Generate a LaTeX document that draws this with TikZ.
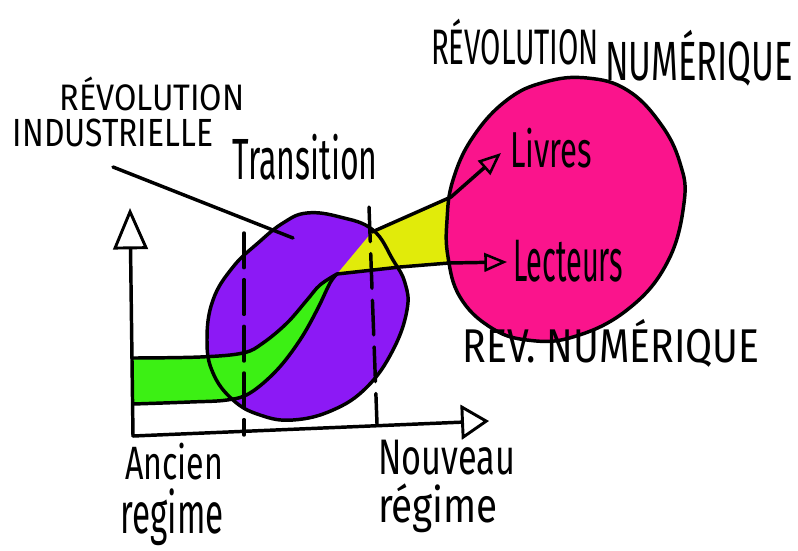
\documentclass[tikz,border=0pt]{standalone}
\usepackage{fontspec}
\setmainfont{Fira Sans}
\usepackage{graphicx}
\usetikzlibrary{arrows.meta}
\newlength\pxu
\setlength\pxu{0.75pt}
\newcommand\hwtext[3]{\resizebox*{#1\pxu}{#2\pxu}{#3}}
\definecolor{violetfill}{HTML}{8C19F5}
\definecolor{pinkfill}{HTML}{FA148C}
\definecolor{greenfill}{HTML}{3CF014}
\definecolor{yellowfill}{HTML}{E1EB0A}
\begin{document}
\begin{tikzpicture}[x=0.75pt,y=-0.75pt,
  ink/.style={line width=2.6pt, line cap=round, line join=round},
  lbl/.style={inner sep=0pt, outer sep=0pt, anchor=center},
  dashline/.style={ink, dash pattern=on 26pt off 9pt},
  smalltip/.style={-{Triangle[open,length=17pt,width=14pt,line width=1.9pt]}},
]
\useasboundingbox[fill=white] (0,0) rectangle (798,550);

% named points
\coordinate (origin) at (133,436);
\coordinate (ytip) at (130,208);
\coordinate (xtip) at (489,421);
\coordinate (bandjoin) at (337,274);
\coordinate (ellipsetop) at (372,232);
\coordinate (topjoin) at (451,197);
\coordinate (botjoin) at (449,263);
\coordinate (livtip) at (501,153);
\coordinate (lectip) at (507,262);
\coordinate (leadstart) at (113,167);
\coordinate (leadend) at (293,238);

% purple ellipse fill
\fill[violetfill] plot[smooth cycle, tension=0.7] coordinates {
  (307,213) (340,217) (373,230) (393,260) (405,283) (407,310) (393,350)
  (367,387) (333,410) (293,420) (260,415) (233,400) (213,373) (207,340)
  (213,300) (233,267) (258,243) (283,223)};

% green band
\fill[greenfill] plot[smooth, tension=0.6] coordinates {
  (133,358) (200,357) (243,353) (263,343) (287,323) (307,300) (320,285) (337,274)}
  -- plot[smooth, tension=0.6] coordinates {
  (337,274) (330,283) (317,310) (300,340) (277,370) (250,393) (227,400) (190,402) (133,404)}
  -- cycle;

% yellow band
\fill[yellowfill] (bandjoin) -- (ellipsetop) -- (topjoin) -- (480,190) -- (480,262)
  -- (botjoin) -- (400,267) -- cycle;

% pink circle
\path[fill=pinkfill, draw=black, ink] plot[smooth cycle, tension=0.7] coordinates {
  (587,78) (627,90) (660,123) (680,163) (684,203) (667,263) (627,310)
  (573,337) (527,340) (490,327) (460,297) (448,257) (447,220) (453,180)
  (473,137) (507,100) (545,82)};

% ellipse outline
\draw[ink] plot[smooth cycle, tension=0.7] coordinates {
  (307,213) (340,217) (373,230) (393,260) (405,283) (407,310) (393,350)
  (367,387) (333,410) (293,420) (260,415) (233,400) (213,373) (207,340)
  (213,300) (233,267) (258,243) (283,223)};

% band edges
\draw[ink] plot[smooth, tension=0.6] coordinates {
  (133,358) (200,357) (243,353) (263,343) (287,323) (307,300) (320,285) (337,274)};
\draw[ink] plot[smooth, tension=0.6] coordinates {
  (133,404) (190,402) (227,400) (250,393) (277,370) (300,340) (317,310) (330,283) (337,274)};
\draw[ink] (ellipsetop) -- (topjoin);
\draw[ink, smalltip] (bandjoin) -- (400,267) -- (botjoin) -- (lectip);
\draw[ink, smalltip] (topjoin) -- (livtip);

% dashed lines
\draw[dashline] (244,233) -- (244,435);
\draw[dashline] (369,207) -- (377,424);

% axes
\draw[ink, -{Triangle[open,length=31pt,width=26pt,line width=2.2pt]}] (origin) -- (ytip);
\draw[ink, -{Triangle[open,length=21pt,width=26pt,line width=2.2pt]}] (origin) -- (xtip);

% leader line
\draw[ink] (leadstart) -- (leadend);

% labels
\node[lbl] (revind1) at (152,94) {\hwtext{185}{34}{RÉVOLUTION}};
\node[lbl] (revind2) at (113,133) {\hwtext{200}{28}{INDUSTRIELLE}};
\node[lbl] (transition) at (305,157) {\hwtext{145}{46}{Transition}};
\node[lbl] (revnum1) at (515,42) {\hwtext{168}{46}{RÉVOLUTION}};
\node[lbl] (revnum2) at (699,58) {\hwtext{188}{56}{NUMÉRIQUE}};
\node[lbl] (livres) at (551,148) {\hwtext{82}{40}{Livres}};
\node[lbl] (lecteurs) at (568,261) {\hwtext{110}{42}{Lecteurs}};
\node[lbl] (revnum3) at (611,343) {\hwtext{297}{48}{REV. NUMÉRIQUE}};
\node[lbl] (ancien) at (174,462) {\hwtext{98}{37}{Ancien}};
\node[lbl] (regimeA) at (172,517) {\hwtext{103}{57}{regime}};
\node[lbl] (nouveau) at (447,458) {\hwtext{137}{35}{Nouveau}};
\node[lbl] (regimeB) at (438,508) {\hwtext{120}{49}{régime}};
\end{tikzpicture}
\end{document}
